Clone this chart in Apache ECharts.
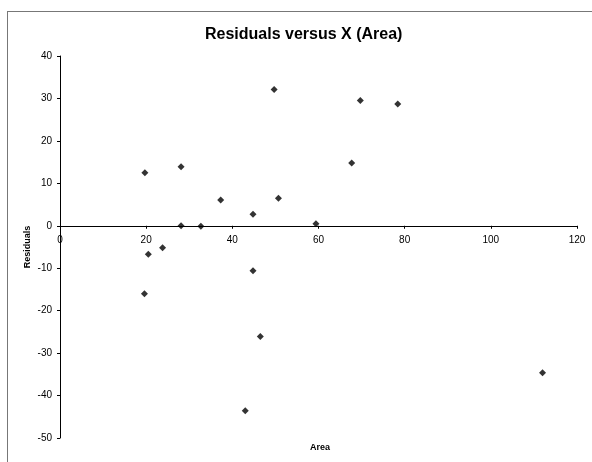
<!DOCTYPE html>
<html>
<head>
<meta charset="utf-8">
<script src="https://cdn.jsdelivr.net/npm/echarts@6/dist/echarts.min.js"></script>
<style>
  html, body { margin: 0; padding: 0; background: #fff; }
  #frame {
    position: absolute; left: 7px; top: 11px; width: 585px; height: 451px;
    border-left: 1px solid #777; border-top: 1px solid #777;
  }
  #myChart { position: absolute; left: 0; top: 0; width: 592px; height: 462px; }
</style>
</head>
<body>
<div id="frame"></div>
<div id="myChart"></div>
<script>
var areaValues = [19.7, 28.1, 28.1, 32.7, 37.3, 44.8, 49.7, 50.7, 69.7, 78.4,
                  67.7, 59.4, 20.5, 23.8, 19.6, 44.8, 46.5, 43.0, 112.0];
var residualValues = [12.5, 13.9, 0.0, -0.1, 6.1, 2.7, 32.1, 6.5, 29.5, 28.7,
                      14.8, 0.5, -6.7, -5.2, -16.0, -10.6, -26.1, -43.6, -34.6];
var xTicks = { min: 0, max: 120, step: 20 };
var yTicks = { min: -50, max: 40, step: 10 };

var points = [];
for (var i = 0; i < areaValues.length; i++) {
  points.push([areaValues[i], residualValues[i]]);
}

var fontName = '"Liberation Sans", Arial, sans-serif';
var boldName = { fontFamily: fontName, fontSize: 9, fontWeight: 'bold', color: '#000' };

var gridTop = 56, gridBottom = 24, chartH = 462;
var plotH = chartH - gridTop - gridBottom;
// x axis crosses at residual 0 (labels and ticks go with it)
var zeroOffset = -plotH * (0 - yTicks.min) / (yTicks.max - yTicks.min);

var option = {
  animation: false,
  title: [
    {
      text: 'Residuals versus X (Area)',
      left: 200,
      top: 22,
      textStyle: { fontFamily: fontName, fontSize: 16, fontWeight: 'bold', color: '#000' }
    },
    {
      text: 'Area',
      left: 305,
      top: 438,
      textStyle: boldName
    }
  ],
  grid: { left: 60, right: 15, top: gridTop, bottom: gridBottom, containLabel: false },
  xAxis: {
    type: 'value',
    position: 'bottom',
    offset: zeroOffset,
    min: xTicks.min, max: xTicks.max, interval: xTicks.step,
    axisLine: { onZero: false, lineStyle: { color: '#000', width: 1 } },
    axisTick: { show: true, inside: false, length: 3, lineStyle: { color: '#000' } },
    axisLabel: { margin: 9, fontFamily: fontName, fontSize: 10, color: '#000' },
    splitLine: { show: false }
  },
  yAxis: {
    type: 'value',
    min: yTicks.min, max: yTicks.max, interval: yTicks.step,
    name: 'Residuals',
    nameLocation: 'middle',
    nameGap: 28,
    nameRotate: 90,
    nameMoveOverlap: false,
    nameTextStyle: boldName,
    axisLine: { show: true, onZero: false, lineStyle: { color: '#000', width: 1 } },
    axisTick: { show: true, inside: false, length: 3, lineStyle: { color: '#000' } },
    axisLabel: { margin: 8, fontFamily: fontName, fontSize: 10, color: '#000' },
    splitLine: { show: false }
  },
  series: [
    {
      name: 'Residuals',
      type: 'scatter',
      symbol: 'diamond',
      symbolSize: 7,
      itemStyle: { color: '#000' },
      data: points
    }
  ]
};

var myChart = echarts.init(document.getElementById('myChart'));
myChart.setOption(option);
</script>
</body>
</html>
